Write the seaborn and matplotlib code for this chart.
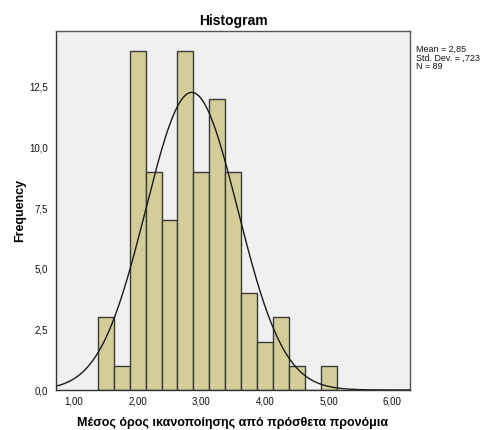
import numpy as np
import pandas as pd
import matplotlib
matplotlib.use("Agg")
import matplotlib.pyplot as plt
import seaborn as sns
from matplotlib.ticker import FuncFormatter

# Bin centres (width 0.25) and their frequencies
bin_centers = [1.50, 1.75, 2.00, 2.25, 2.50, 2.75, 3.00, 3.25, 3.50, 3.75, 4.00, 4.25, 4.50, 4.75, 5.00]
frequencies = [3, 1, 14, 9, 7, 14, 9, 12, 9, 4, 2, 3, 1, 0, 1]
bin_width = 0.25

# Summary statistics
mean_val = 2.85
std_val = 0.723
n_obs = 89

x_ticks = [1, 2, 3, 4, 5, 6]
y_ticks = [0, 2.5, 5, 7.5, 10, 12.5]

sns.set_style("white")
plt.rcParams["font.family"] = ["Liberation Sans", "DejaVu Sans"]
plt.rcParams["text.color"] = "black"
plt.rcParams["axes.labelcolor"] = "black"

fig = plt.figure(figsize=(4.83, 4.30), dpi=100)
ax = fig.add_axes([56 / 483, 40 / 430, 354 / 483, 359 / 430])
ax.set_facecolor("#F0F0F0")

df = pd.DataFrame({"value": bin_centers, "count": frequencies})
sns.histplot(data=df, x="value", weights="count", binwidth=bin_width,
             binrange=(bin_centers[0] - bin_width / 2, bin_centers[-1] + bin_width / 2),
             color="#D3CE97", edgecolor="#3a3a3a", linewidth=1.0, alpha=1.0, ax=ax)

# Fitted normal curve scaled to counts
xs = np.linspace(0.6, 6.4, 400)
ys = n_obs * bin_width * np.exp(-0.5 * ((xs - mean_val) / std_val) ** 2) / (std_val * np.sqrt(2 * np.pi))
sns.lineplot(x=xs, y=ys, color="#1a1a1a", linewidth=1.0, ax=ax)

ax.set_xlim(0.717, 6.28)
ax.set_ylim(0, 14.81)
ax.set_xticks(x_ticks)
ax.set_yticks(y_ticks)
ax.xaxis.set_major_formatter(FuncFormatter(lambda v, p: f"{v:.2f}".replace(".", ",")))
ax.yaxis.set_major_formatter(FuncFormatter(lambda v, p: f"{v:.1f}".replace(".", ",")))
ax.tick_params(axis="both", labelsize=7, colors="#333333", labelcolor="#111111",
               length=4, width=0.8, direction="out", pad=2)
ax.tick_params(axis="x", length=3)

for side, sp in ax.spines.items():
    sp.set_visible(True)
    sp.set_linewidth(1.0)
    sp.set_color("#555555" if side in ("top", "right") else "#333333")

ax.set_title("Histogram", fontsize=10, fontweight="bold", pad=4, color="black")
ax.set_xlabel("Μέσος όρος ικανοποίησης από πρόσθετα προνόμια", fontsize=9,
              fontweight="bold", labelpad=7)
ax.set_ylabel("Frequency", fontsize=9, fontweight="bold", labelpad=2)

stats_text = f"Mean = {mean_val:.2f}".replace(".", ",") + "\n" + \
             f"Std. Dev. = {std_val:.3f}".replace("0.", ",") + "\n" + f"N = {n_obs}"
fig.text(416 / 483, 1 - 45 / 430, stats_text, fontsize=6.4, va="top", ha="left",
         color="#111111", linespacing=0.95)

fig.savefig("out.png", dpi=100, facecolor="white")
